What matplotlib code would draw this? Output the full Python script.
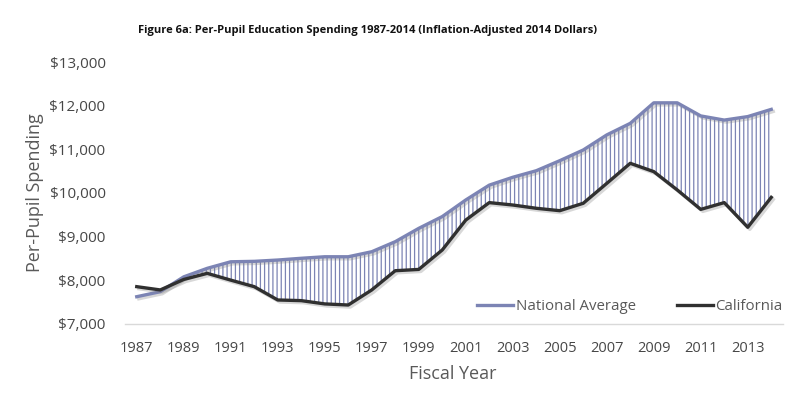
import matplotlib
matplotlib.use("Agg")
import matplotlib.pyplot as plt
import matplotlib.patheffects as pe
from matplotlib.lines import Line2D
from matplotlib.ticker import FuncFormatter

years = list(range(1987, 2015))
national = [7625, 7740, 8080, 8275, 8425, 8435, 8465, 8505, 8540, 8540,
            8655, 8885, 9190, 9460, 9840, 10180, 10360, 10510, 10740, 10985,
            11330, 11595, 12065, 12065, 11765, 11670, 11750, 11915]
california = [7855, 7780, 8020, 8160, 8005, 7855, 7550, 7535, 7460, 7435,
              7780, 8220, 8250, 8695, 9380, 9780, 9725, 9650, 9595, 9765,
              10220, 10680, 10490, 10070, 9625, 9780, 9215, 9900]
tick_years = list(range(1987, 2014, 2))
yticks = [7000, 8000, 9000, 10000, 11000, 12000, 13000]

plt.rcParams['font.family'] = ['Open Sans', 'DejaVu Sans']
plt.rcParams['hatch.linewidth'] = 0.9

nat_color = '#7c84b4'
cal_color = '#303030'
txt_color = '#595959'
tick_color = '#474747'

fig = plt.figure(figsize=(8, 3.99), dpi=100)
ax = fig.add_axes([125/800, 75/399, 658/800, 262/399])

ax.fill_between(years, national, california,
                where=[n >= c for n, c in zip(national, california)],
                interpolate=True, facecolor='white', edgecolor=nat_color,
                hatch='||||', linewidth=0, zorder=1)

shadow = [pe.SimpleLineShadow(offset=(1.5, -1.5), shadow_color='#808080', alpha=0.3), pe.Normal()]
ax.plot(years, national, color=nat_color, lw=2.4, solid_joinstyle='round',
        path_effects=shadow, zorder=3)
ax.plot(years, california, color=cal_color, lw=2.4, solid_joinstyle='round',
        path_effects=shadow, zorder=3)

ax.set_xlim(1986.5, 2014.5)
ax.set_ylim(7000, 13000)
ax.set_xticks(tick_years)
ax.set_xticklabels([str(y) for y in tick_years])
ax.set_yticks(yticks)
ax.yaxis.set_major_formatter(FuncFormatter(lambda v, p: '${:,.0f}'.format(v)))
ax.tick_params(axis='both', length=0, colors=tick_color)
ax.tick_params(axis='y', labelsize=11, pad=14)
ax.tick_params(axis='x', labelsize=10.5, pad=12)
for s in ['top', 'right', 'left']:
    ax.spines[s].set_visible(False)
ax.spines['bottom'].set_color('#d9d9d9')
ax.spines['bottom'].set_linewidth(1)

fig.text(35/800, 1 - 193/399, 'Per-Pupil Spending', rotation=90, ha='center', va='center',
         fontsize=13, color=txt_color)
fig.text(453/800, 1 - 374/399, 'Fiscal Year', ha='center', va='center',
         fontsize=13, color=txt_color)
fig.text(368/800, 1 - 30/399,
         'Figure 6a: Per-Pupil Education Spending 1987-2014 (Inflation-Adjusted 2014 Dollars)',
         ha='center', va='center', fontsize=8, fontweight='bold', color='#111111')

handles = [Line2D([], [], color=nat_color, lw=2.4), Line2D([], [], color=cal_color, lw=2.4)]
leg = fig.legend(handles, ['National Average', 'California'], loc='center left',
                 bbox_to_anchor=(477/800, 1 - 307/399), ncol=2, frameon=False,
                 fontsize=10.8, handlelength=2.4, handletextpad=0.2,
                 columnspacing=2.7, borderpad=0, borderaxespad=0)
for t in leg.get_texts():
    t.set_color(txt_color)

fig.savefig('out.png', dpi=100, facecolor='white')
